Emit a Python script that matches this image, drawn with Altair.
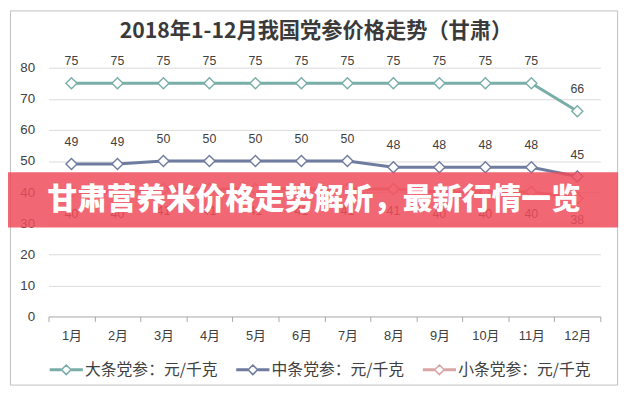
import altair as alt
import pandas as pd

# ---- data ----
months = [1, 2, 3, 4, 5, 6, 7, 8, 9, 10, 11, 12]
series_names = ["大条党参：元/千克", "中条党参：元/千克", "小条党参：元/千克"]
large = [75, 75, 75, 75, 75, 75, 75, 75, 75, 75, 75, 66]
medium = [49, 49, 50, 50, 50, 50, 50, 48, 48, 48, 48, 45]
small = [40, 40, 41, 41, 41, 41, 41, 41, 40, 40, 40, 38]
label_side = ["above", "above", "below"]
colors = ["#79aea8", "#6f7b9f", "#d8a6a4"]
y_ticks = [0, 10, 20, 30, 40, 50, 60, 70, 80]
x_bounds = [0.5, 1.5, 2.5, 3.5, 4.5, 5.5, 6.5, 7.5, 8.5, 9.5, 10.5, 11.5, 12.5]
title_text = "2018年1-12月我国党参价格走势（甘肃）"
banner_text = "甘肃营养米价格走势解析，最新行情一览"

rows = []
for name, vals, side in zip(series_names, [large, medium, small], label_side):
    for m, v in zip(months, vals):
        rows.append({"month": m, "value": v, "series": name, "side": side})
df = pd.DataFrame(rows)

CJK = "Noto Sans CJK SC"
LAT = "Liberation Sans, Noto Sans CJK SC"
TXT = "#404040"

x_enc = alt.X(
    "month:Q",
    scale=alt.Scale(domain=[0.5, 12.5], nice=False, zero=False),
    axis=alt.Axis(
        values=x_bounds,
        labelExpr="datum.value < 12 ? (datum.value + 0.5) + '月' : ''",
        labelOffset=23.29,
        tickSize=5,
        labelPadding=8,
        labelFlush=False,
        labelOverlap=False,
        grid=False,
        domainColor="#a6a6a6",
        tickColor="#a6a6a6",
        labelFontSize=13,
        labelColor=TXT,
        labelFont=LAT,
        title=None,
    ),
)
y_enc = alt.Y(
    "value:Q",
    scale=alt.Scale(domain=[0, 80], nice=False),
    axis=alt.Axis(
        values=y_ticks,
        grid=True,
        gridColor={"condition": {"test": "datum.value === 0", "value": "transparent"}, "value": "#d9d9d9"},
        domain=False,
        ticks=False,
        tickSize=0,
        labelPadding=14,
        labelOverlap=False,
        labelFlush=False,
        labelFontSize=13.5,
        labelColor=TXT,
        labelFont=LAT,
        title=None,
    ),
)
col_scale = alt.Scale(domain=series_names, range=colors)

legend_path = ("M-1,-0.05L-0.36,-0.05L-0.36,0.05L-1,0.05Z"
               "M0.36,-0.05L1,-0.05L1,0.05L0.36,0.05Z"
               "M0,-0.3L0.3,0L0,0.3L-0.3,0Z")
legend = alt.Legend(
    orient="none", legendX=1, legendY=289, direction="horizontal",
    title=None, symbolType=legend_path, symbolSize=1024,
    symbolOpacity=1, symbolStrokeWidth=1.6, symbolFillColor="white",
    labelOffset=2, columnPadding=15, labelFontSize=16, labelFont=CJK,
    labelColor=TXT, labelLimit=400,
)
color_enc = alt.Color("series:N", scale=col_scale, legend=legend)

base = alt.Chart(df).encode(x=x_enc, y=y_enc)

lines = base.mark_line(strokeWidth=3).encode(color=color_enc)
points = base.mark_point(shape="diamond", size=125, filled=False, fill="white",
                         strokeWidth=1.4, opacity=1).encode(color=color_enc)
labels_above = base.transform_filter("datum.side === 'above'").mark_text(
    dy=-22, fontSize=12.5, font=LAT, color=TXT
).encode(text="value:Q")
labels_below = base.transform_filter("datum.side === 'below'").mark_text(
    dy=22, fontSize=12.5, font=LAT, color=TXT
).encode(text="value:Q")

one = pd.DataFrame({"t": [banner_text], "title": [title_text]})
border = alt.Chart(one).mark_rect(fillOpacity=0, stroke="#bfbfbf", strokeWidth=1).encode(
    x=alt.value(-38.5), x2=alt.value(576.5), y=alt.value(-57.5), y2=alt.value(321.5)
)
title_mark = alt.Chart(one).mark_text(
    font=CJK, fontSize=21.5, fontWeight="bold", color="#3a3a3a", align="center", baseline="middle"
).encode(x=alt.value(271), y=alt.value(-36), text="title:N")
banner = alt.Chart(one).mark_rect(fill="#ef4c5a", opacity=0.85).encode(
    x=alt.value(-41), x2=alt.value(577), y=alt.value(106), y2=alt.value(162)
)
banner_txt = alt.Chart(one).mark_text(
    font=CJK, fontSize=30, fontWeight=900, color="white", align="center", baseline="middle"
).encode(x=alt.value(269), y=alt.value(134), text="t:N")

chart = alt.layer(
    border, title_mark, lines, points, labels_above, labels_below, banner, banner_txt
).properties(
    width=559, height=252,
    autosize=alt.AutoSizeParams(type="none"),
    padding={"left": 41, "top": 58, "right": 26, "bottom": 70},
).configure_view(stroke=None)

chart.save("out.html", embed_options={"renderer": "svg", "actions": False})
